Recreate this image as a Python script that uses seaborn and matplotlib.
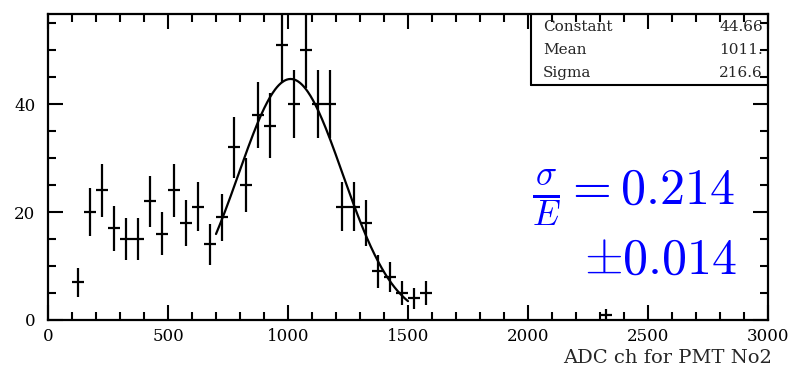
import numpy as np
import pandas as pd
import matplotlib
matplotlib.use("Agg")
import matplotlib.pyplot as plt
import seaborn as sns
from matplotlib.ticker import MultipleLocator

# ---- data ----
bin_centers = [125, 175, 225, 275, 325, 375, 425, 475, 525, 575, 625, 675,
               725, 775, 825, 875, 925, 975, 1025, 1075, 1125, 1175, 1225,
               1275, 1325, 1375, 1425, 1475, 1525, 1575, 2325]
counts = [7, 20, 24, 17, 15, 15, 22, 16, 24, 18, 21, 14,
          19, 32, 25, 38, 36, 51, 40, 50, 40, 40, 21,
          21, 18, 9, 8, 5, 4, 5, 1]
bin_width = 50
fit_constant = 44.66
fit_mean = 1011.0
fit_sigma = 216.6
fit_range = (700, 1500)
stat_names = ["Constant", "Mean", "Sigma"]
stat_values = ["44.66", "1011.", "216.6"]
x_label = "ADC ch for PMT No2"

sns.set_theme(style="ticks")
plt.rcParams["font.family"] = ["DejaVu Serif"]
plt.rcParams["mathtext.fontset"] = "cm"

fig = plt.figure(figsize=(7.98, 3.83), dpi=100)
ax = fig.add_axes([48/798, 1-320/383, 720/798, 306/383])

df = pd.DataFrame({"x": bin_centers, "y": counts})
err = np.sqrt(df["y"].values)
ax.errorbar(df["x"], df["y"], xerr=bin_width/2, yerr=err, fmt="none",
            ecolor="black", elinewidth=1.6, capsize=0)

xf = np.linspace(fit_range[0], fit_range[1], 300)
fit_df = pd.DataFrame({"x": xf,
                       "y": fit_constant*np.exp(-0.5*((xf-fit_mean)/fit_sigma)**2)})
sns.lineplot(data=fit_df, x="x", y="y", ax=ax, color="black", linewidth=1.6)

ax.set_xlim(0, 3000)
ax.set_ylim(0, 56.7)
ax.xaxis.set_major_locator(MultipleLocator(500))
ax.xaxis.set_minor_locator(MultipleLocator(100))
ax.yaxis.set_major_locator(MultipleLocator(20))
ax.yaxis.set_minor_locator(MultipleLocator(5))
ax.tick_params(which="both", direction="in", top=True, right=True,
               colors="black", labelsize=12, width=1.5)
ax.tick_params(which="major", length=11, pad=6)
ax.tick_params(axis="y", which="major", pad=9)
ax.tick_params(which="minor", length=6)
for s in ax.spines.values():
    s.set_linewidth(1.6)
    s.set_color("black")
ax.set_xlabel("")
ax.set_ylabel("")
fig.text(772/798, 1-358/383, x_label, fontsize=14, ha="right", va="center")

# stats box (left and bottom border)
bx0, by0 = (531-48)/720, (320-85)/306
ax.plot([bx0, bx0], [by0, 1], transform=ax.transAxes, color="black",
        lw=1.5, clip_on=False)
ax.plot([bx0, 1], [by0, by0], transform=ax.transAxes, color="black",
        lw=1.5, clip_on=False)
for i, (n, v) in enumerate(zip(stat_names, stat_values)):
    yy = (320-27-23*i)/306
    ax.text((543-48)/720, yy, n, transform=ax.transAxes, fontsize=11,
            va="center", ha="left")
    ax.text((763-48)/720, yy, v, transform=ax.transAxes, fontsize=11,
            va="center", ha="right")

fig.text(735/798, 1-205/383, r"$\frac{\sigma}{E} = 0.214$", color="#0000ff",
         fontsize=36, ha="right", va="baseline")
fig.text(737/798, 1-274/383, r"$\pm0.014$", color="#0000ff",
         fontsize=36, ha="right", va="baseline")

fig.savefig("out.png", dpi=100)
